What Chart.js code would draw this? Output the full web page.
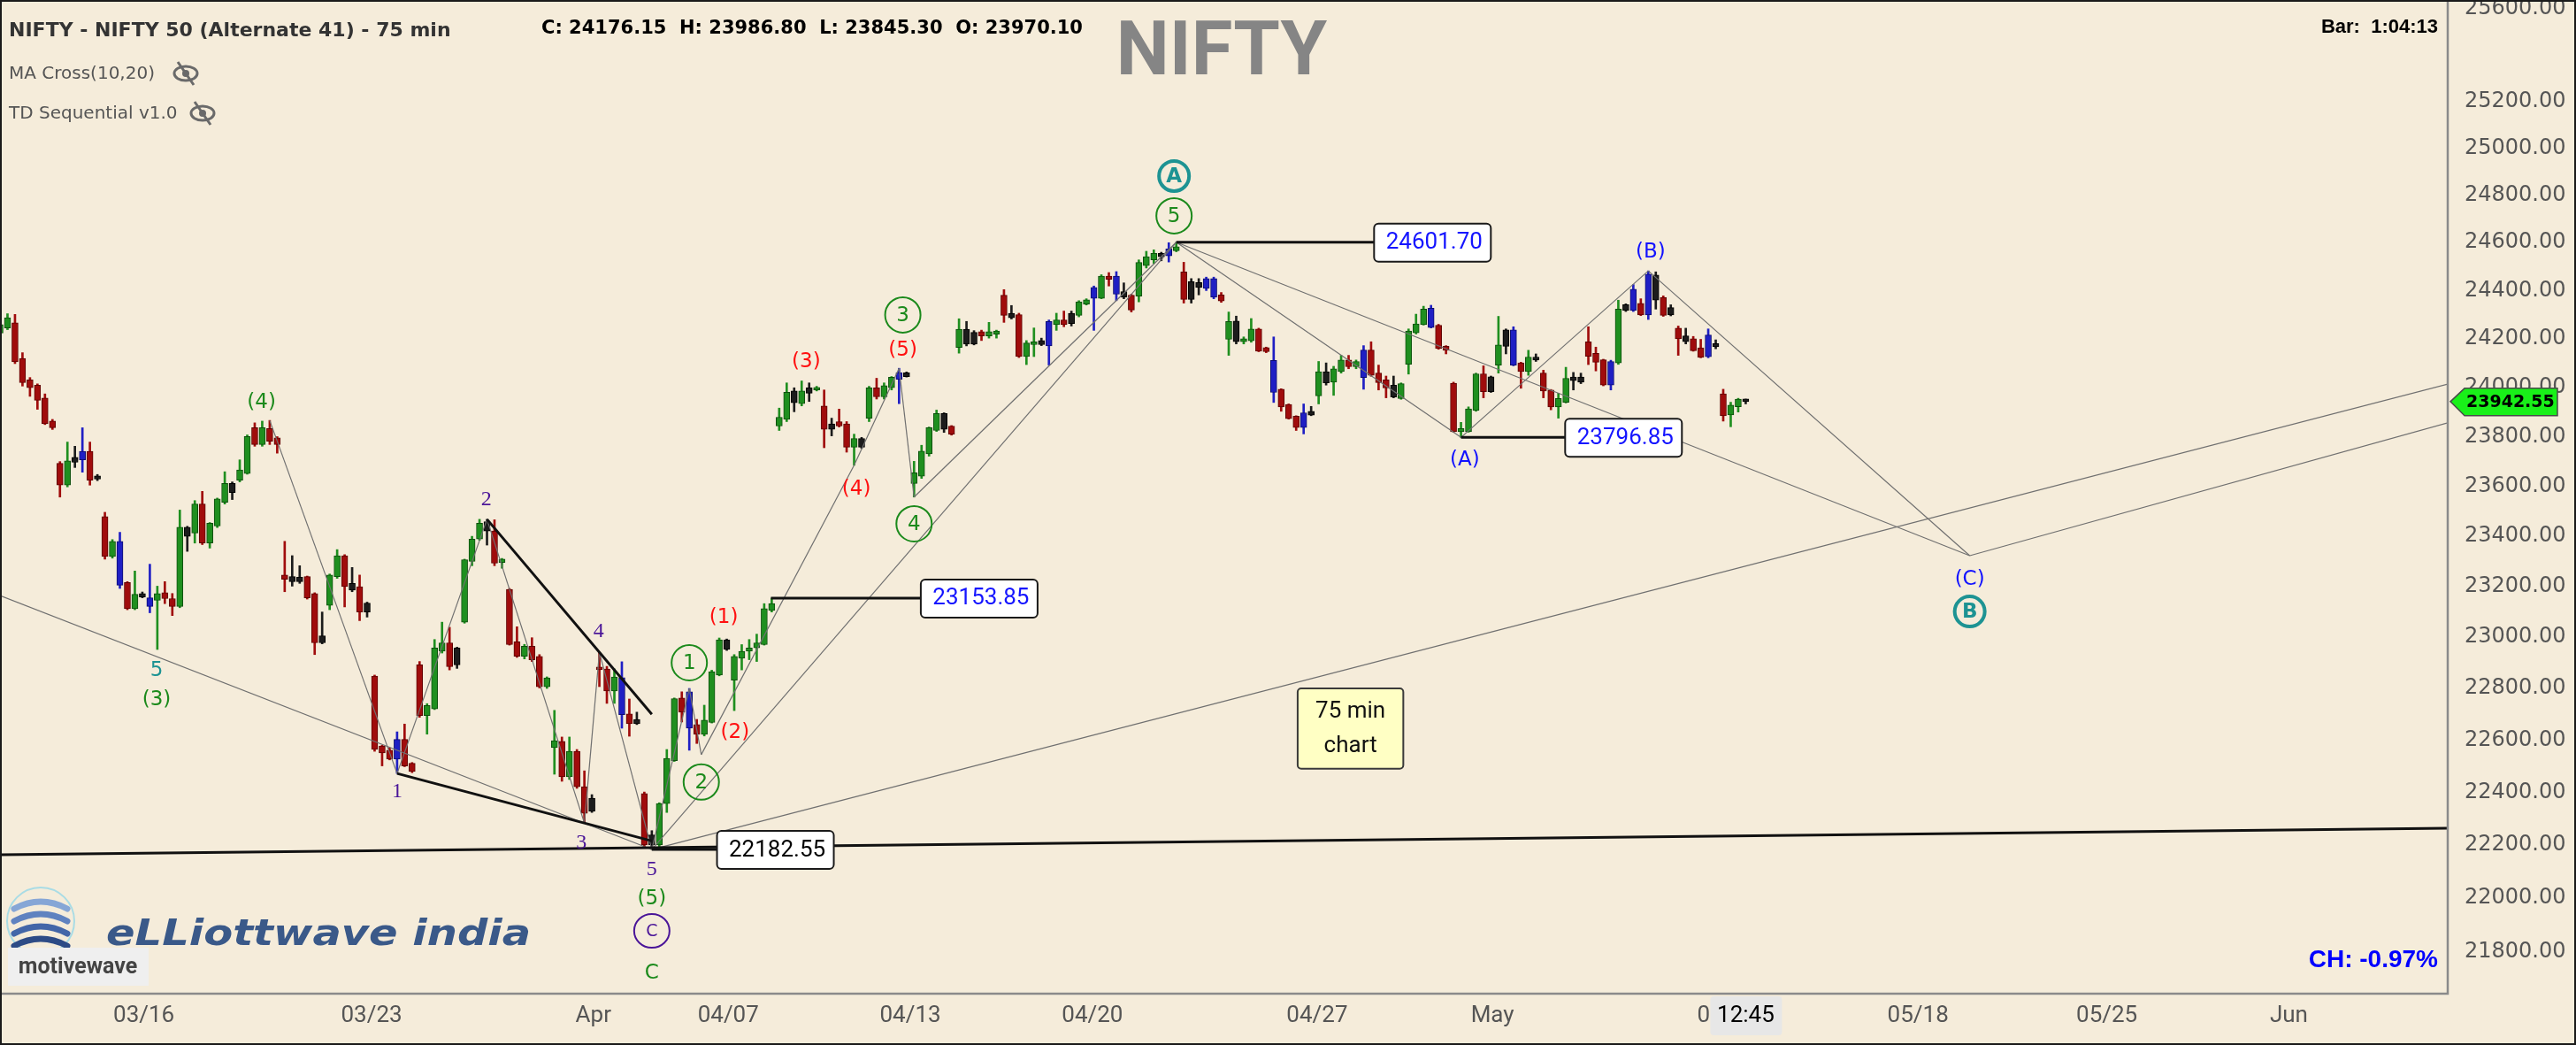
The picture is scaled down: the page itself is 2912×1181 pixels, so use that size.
<!DOCTYPE html>
<html>
<head>
<meta charset="utf-8">
<script src="https://cdn.jsdelivr.net/npm/chart.js@4.4.1/dist/chart.umd.min.js"></script>
<style>
  html, body { margin: 0; padding: 0; background: #f5ecda; }
  #wrap { width: 2912px; height: 1181px; position: relative; }
</style>
</head>
<body>
<div id="wrap"><canvas id="nifty"></canvas></div>
<script>
// 75 min bars (index 0 = left edge)
var opens = [24224,24245,24266,24119,24031,24010,23957,23863,23692,23604,
  23716,23706,23740,23641,23478,23319,23379,23215,23112,23172,
  23155,23145,23175,23152,23121,23435,23412,23528,23372,23440,
  23535,23611,23624,23651,23836,23768,23833,23795,23245,23239,
  23236,23239,23172,22978,23125,23239,23322,23212,23199,23134,
  22848,22577,22561,22527,22603,22511,22892,22695,22721,22945,
  22978,22892,23059,23299,23388,23457,23420,23295,23188,22982,
  22925,22965,22925,22806,22571,22595,22459,22557,22421,22377,
  22883,22876,22790,22842,22701,22680,22395,22238,22200,22357,
  22521,22763,22787,22660,22622,22668,22852,22990,22832,22918,
  22945,22958,22971,23105,23843,23870,23986,23934,23999,23990,
  23925,23852,23861,23852,23757,23792,23875,23999,23962,23999,
  24034,24060,23611,23640,23730,23825,23894,23843,24165,24240,
  24227,24230,24212,24219,24381,24306,24300,24127,24176,24193,
  24171,24259,24278,24306,24297,24344,24368,24368,24460,24460,
  24396,24381,24377,24504,24528,24555,24545,24566,24478,24437,
  24433,24409,24450,24382,24198,24274,24188,24192,24241,24164,
  24111,23993,23931,23883,23837,23903,23966,24065,24022,24065,
  24113,24085,24154,24154,24059,24031,24010,23955,24095,24225,
  24259,24327,24256,24169,24018,23820,23820,23906,24056,24044,
  24092,24237,24237,24101,24065,24125,24059,23990,23921,23940,
  24043,24043,24188,24140,24114,24010,24101,24341,24317,24347,
  24299,24465,24372,24329,24244,24212,24200,24163,24126,24180,
  23974,23888,23922,23950];

var highs = [24273,24304,24301,24143,24041,24015,23974,23870,23699,23778,
  23761,23836,23778,23647,23495,23386,23415,23219,23261,23178,
  23288,23201,23219,23172,23504,23439,23542,23579,23454,23552,
  23658,23617,23706,23807,23856,23863,23866,23800,23379,23322,
  23282,23241,23175,23099,23249,23346,23326,23275,23245,23138,
  22852,22580,22570,22632,22662,22514,22905,22741,22991,23059,
  23039,22961,23308,23399,23467,23467,23465,23311,23192,23041,
  22972,22998,22932,22845,22715,22612,22612,22564,22482,22391,
  22941,22886,22876,22904,22759,22708,22401,22254,22360,22564,
  22763,22787,22800,22680,22735,22871,22997,22993,22932,22971,
  22991,23012,23132,23153.85,23916,24019,23999,24027,24019,24005,
  23990,23875,23912,23861,23810,23797,24005,24038,24019,24045,
  24079,24064,23700,23765,23839,23908,23897,23845,24283,24272,
  24234,24236,24268,24236,24404,24338,24306,24193,24245,24203,
  24278,24306,24315,24315,24358,24366,24419,24466,24475,24479,
  24432,24385,24528,24564,24570,24560,24600,24601.70,24518,24450,
  24450,24456,24456,24392,24311,24294,24208,24284,24244,24166,
  24208,23995,23933,23885,23933,23923,24107,24101,24087,24132,
  24132,24113,24172,24188,24092,24047,24047,24019,24241,24302,
  24335,24339,24260,24172,24022,23858,23921,24059,24089,24047,
  24293,24241,24250,24104,24153,24138,24071,23992,23977,24083,
  24062,24059,24250,24166,24116,24112,24360,24345,24425,24366,
  24482,24478,24378,24341,24253,24244,24210,24198,24241,24196,
  23993,23940,23956,23953];

var lows = [24210,24238,24098,24006,23964,23911,23849,23829,23556,23597,
  23675,23656,23604,23622,23308,23312,23192,23108,23108,23155,
  23096,22952,23132,23085,23116,23339,23372,23366,23352,23434,
  23528,23546,23617,23648,23761,23761,23768,23733,23179,23201,
  23212,23150,22932,22974,23108,23232,23119,23179,23065,23079,
  22557,22501,22524,22472,22498,22475,22688,22623,22718,22938,
  22872,22878,23055,23282,23383,23364,23282,23272,22969,22921,
  22915,22905,22802,22800,22469,22442,22449,22415,22283,22323,
  22807,22742,22742,22646,22615,22660,22190,22182.55,22190,22323,
  22518,22670,22561,22587,22616,22666,22849,22948,22714,22872,
  22912,22905,22969,23099,23825,23861,23901,23925,23943,23986,
  23755,23803,23839,23737,23684,23752,23861,23953,23953,23990,
  23934,24043,23556,23631,23721,23821,23817,23806,24141,24171,
  24175,24193,24203,24203,24268,24282,24123,24094,24127,24172,
  24092,24235,24250,24253,24291,24340,24235,24366,24419,24358,
  24366,24311,24353,24494,24513,24524,24519,24562,24348,24348,
  24382,24400,24366,24351,24132,24179,24179,24186,24147,24143,
  23939,23903,23871,23825,23811,23885,23933,24010,23968,24059,
  24077,24077,23993,24046,23990,23958,23958,23952,24055,24220,
  24257,24245,24157,24138,23818,23796.85,23818,23903,23958,23980,
  24059,24138,24089,23997,24050,24107,23958,23909,23875,23937,
  23990,24016,24094,24068,24007,23990,24095,24313,24313,24296,
  24280,24323,24293,24295,24132,24179,24149,24122,24122,24159,
  23863,23840,23900,23933];

var closes = [24259,24287,24105,24020,23999,23948,23852,23836,23604,23702,
  23696,23740,23624,23628,23319,23379,23205,23112,23169,23158,
  23121,23172,23152,23121,23435,23399,23528,23372,23451,23549,
  23611,23574,23665,23800,23768,23836,23781,23768,23228,23219,
  23219,23155,22978,23005,23245,23322,23199,23185,23099,23099,
  22564,22551,22527,22603,22501,22479,22695,22734,22958,22978,
  22885,22958,23306,23388,23451,23420,23292,23308,22971,22925,
  22965,22912,22806,22841,22598,22459,22557,22421,22320,22327,
  22873,22790,22845,22698,22663,22663,22200,22200,22357,22530,
  22760,22708,22646,22622,22677,22865,22990,22952,22925,22945,
  22958,22978,23112,23132,23879,23981,23938,23986,23977,23999,
  23830,23830,23843,23757,23792,23757,23999,23962,24008,24042,
  24060,24045,23654,23741,23836,23894,23830,23810,24240,24178,
  24178,24212,24230,24232,24297,24287,24127,24183,24188,24176,
  24272,24278,24259,24263,24353,24362,24413,24460,24447,24385,
  24372,24319,24517,24541,24555,24541,24574,24583,24363,24363,
  24413,24450,24372,24357,24272,24188,24200,24241,24149,24147,
  23980,23921,23873,23837,23897,23887,24065,24019,24077,24113,
  24085,24107,24041,24050,24020,23998,23961,24016,24232,24262,
  24323,24247,24160,24153,23820,23833,23913,24056,23983,23983,
  24175,24169,24092,24065,24125,24113,23986,23921,23955,24038,
  24028,24022,24128,24104,24010,24107,24323,24317,24406,24299,
  24468,24360,24297,24299,24200,24188,24151,24124,24216,24167,
  23885,23928,23953,23942.55];

// bar colouring as shown (g up, r down, b / k indicator-painted bars)
var kinds = ('ggrrrrrrrg' + 'kbrkrgbrgk' + 'bgrrgkgrgg' + 'gkggrgrrrk' + 'krrkggrkrk' +
  'rrrbrrrggg' + 'rkgggkrgrr' + 'grrggrgrrk' + 'rrgbrkrkgg' + 'grbrgggkgg' +
  'ggggggkgkg' + 'rkrrgkgrgg' + 'bkggggkrgk' + 'krggrkrggk' + 'bgrkggbgrb' +
  'krgggkbgrk' + 'kbbrgkggrr' + 'brrrbkgkgg' + 'rgbrrrkggg' + 'gbrrrgggrk' +
  'gkbrgkrrgg' + 'kkrrrbgkbr' + 'bkrkrkrrbk' + 'rggk').split('');

var yTicks = [21800, 22000, 22200, 22400, 22600, 22800, 23000, 23200, 23400, 23600,
  23800, 24000, 24200, 24400, 24600, 24800, 25000, 25200, 25600];
var xTickLabels = ['03/16', '03/23', 'Apr', '04/07', '04/13', '04/20', '04/27', 'May', '05/11', '05/18', '05/25', 'Jun'];
var xTickIdx = [19.2, 49.6, 79.2, 97.2, 121.5, 145.8, 175.8, 199.2, 230.6, 256, 281.2, 305.5];

// wave labels: text, bar index, price level
var waveLabels = [
  ['(4)', 34.9, 23938, 'green'], ['5', 20.9, 22869, 'teal'], ['(3)', 20.9, 22756, 'green'],
  ['(1)', 96.6, 23077, 'red'], ['(2)', 98.1, 22629, 'red'], ['(3)', 107.6, 24105, 'red'],
  ['(4)', 114.3, 23587, 'red'], ['(5)', 120.5, 24152, 'red'],
  ['(5)', 87, 21996, 'green'], ['C', 87, 21719, 'green'],
  ['(A)', 195.5, 23705, 'blue'], ['(B)', 220.3, 24560, 'blue'], ['(C)', 262.9, 23227, 'blue']
];
var minorLabels = [['1', 53, 22402], ['2', 64.9, 23544], ['3', 77.6, 22206], ['4', 79.9, 23021], ['5', 87, 22106]];
var circleLabels = [
  ['1', 92, 22900, 'green'], ['2', 93.6, 22439, 'green'], ['3', 120.5, 24299, 'green'],
  ['4', 122, 23449, 'green'], ['5', 156.7, 24713, 'green'], ['A', 156.7, 24881, 'teal'],
  ['B', 262.9, 23101, 'teal'], ['C', 87, 21877, 'purple']
];
var priceBoxes = [[22182.55, 95.7, 'black'], [23153.85, 122.9, 'blue'], [24601.70, 183.4, 'blue'], [23796.85, 208.9, 'blue']];

// wave lines between swing points (index, price, index, price)
var thinLines = [
  [0, 23164, 87, 22182.55], [36, 23866, 53, 22472], [53, 22472, 65, 23467],
  [65, 23467, 78, 22283], [78, 22283, 80, 22941], [80, 22941, 87, 22182.55],
  [87, 22182.55, 92, 22800], [92, 22800, 93.6, 22544], [93.6, 22544, 114, 23684],
  [114, 23684, 120, 24079], [120, 24079, 122, 23556], [122, 23556, 157, 24601.7],
  [87, 22182.55, 157, 24601.7], [87, 22182.55, 326.7, 24014],
  [157, 24601.7, 195, 23796.85], [157, 24601.7, 262.9, 23322],
  [195, 23796.85, 220, 24482], [220, 24482, 262.9, 23322], [262.9, 23322, 326.7, 23856]
];
var thickLines = [
  [53, 22472, 87, 22215], [65, 23467, 87, 22700], [0, 22163, 326.7, 22263],
  [87, 22182.55, 95.7, 22182.55], [102.9, 23153.85, 122.9, 23153.85],
  [157, 24601.7, 183.4, 24601.7], [195, 23796.85, 208.9, 23796.85]
];

var fills = { g: '#1f8f1f', r: '#a00c0c', b: '#1f1fc4', k: '#1c1c1c' };
var edges = { g: '#0d4f0d', r: '#5e0000', b: '#0d0d70', k: '#000000' };
var labelColors = { green: '#1c8a1c', red: '#ff1010', blue: '#1212ff', teal: '#1d9393', purple: '#4a1598' };

var idx = opens.map(function (v, i) { return i; });

function rr(ctx, x, y, w, h, r) {
  ctx.beginPath();
  ctx.moveTo(x + r, y);
  ctx.arcTo(x + w, y, x + w, y + h, r);
  ctx.arcTo(x + w, y + h, x, y + h, r);
  ctx.arcTo(x, y + h, x, y, r);
  ctx.arcTo(x, y, x + w, y, r);
  ctx.closePath();
}

function text(ctx, s, x, y, font, color, align) {
  ctx.font = font;
  ctx.fillStyle = color;
  ctx.textAlign = align || 'center';
  ctx.textBaseline = 'middle';
  ctx.fillText(s, x, y);
}

function eye(ctx, cx, cy) {
  ctx.save();
  ctx.strokeStyle = '#6a6a6a';
  ctx.fillStyle = '#6a6a6a';
  ctx.lineWidth = 3;
  ctx.beginPath();
  ctx.ellipse(cx, cy, 13, 8, 0, 0, Math.PI * 2);
  ctx.stroke();
  ctx.beginPath();
  ctx.arc(cx, cy, 4, 0, Math.PI * 2);
  ctx.fill();
  ctx.beginPath();
  ctx.moveTo(cx - 9, cy - 13);
  ctx.lineTo(cx + 9, cy + 13);
  ctx.stroke();
  ctx.restore();
}

var background = {
  id: 'background',
  beforeDraw: function (chart) {
    var ctx = chart.ctx;
    ctx.save();
    ctx.fillStyle = '#f5ecda';
    ctx.fillRect(0, 0, chart.width, chart.height);
    ctx.restore();
  }
};

var overlay = {
  id: 'overlay',
  afterDatasetsDraw: function (chart) {
    var ctx = chart.ctx, X = chart.scales.x, Y = chart.scales.y, a = chart.chartArea;
    var px = function (i) { return X.getPixelForValue(i); };
    var py = function (v) { return Y.getPixelForValue(v); };

    ctx.save();
    ctx.beginPath();
    ctx.rect(a.left, a.top, a.right - a.left, a.bottom - a.top);
    ctx.clip();

    ctx.strokeStyle = '#707070';
    ctx.lineWidth = 1.2;
    thinLines.forEach(function (l) {
      ctx.beginPath();
      ctx.moveTo(px(l[0]), py(l[1]));
      ctx.lineTo(px(l[2]), py(l[3]));
      ctx.stroke();
    });
    ctx.strokeStyle = '#111';
    ctx.lineWidth = 3;
    thickLines.forEach(function (l) {
      ctx.beginPath();
      ctx.moveTo(px(l[0]), py(l[1]));
      ctx.lineTo(px(l[2]), py(l[3]));
      ctx.stroke();
    });

    waveLabels.forEach(function (l) {
      text(ctx, l[0], px(l[1]), py(l[2]), '23px "DejaVu Sans"', labelColors[l[3]]);
    });
    minorLabels.forEach(function (l) {
      text(ctx, l[0], px(l[1]), py(l[2]), '24px "Liberation Serif"', labelColors.purple);
    });
    circleLabels.forEach(function (l) {
      var x = px(l[1]), y = py(l[2]), c = labelColors[l[3]];
      var teal = l[3] === 'teal';
      ctx.strokeStyle = c;
      ctx.lineWidth = teal ? 4 : 2;
      ctx.beginPath();
      if (teal) ctx.arc(x, y, 17, 0, Math.PI * 2);
      else ctx.ellipse(x, y, 20, l[3] === 'purple' ? 19 : 20, 0, 0, Math.PI * 2);
      ctx.stroke();
      text(ctx, l[0], x, y + 1, teal ? 'bold 23px "DejaVu Sans"' : (l[3] === 'purple' ? '19px "DejaVu Sans"' : '23px "DejaVu Sans"'), c);
    });

    priceBoxes.forEach(function (b) {
      var x = px(b[1]), y = py(b[0]);
      rr(ctx, x, y - 21, 132, 43, 5);
      ctx.fillStyle = '#ffffff';
      ctx.fill();
      ctx.strokeStyle = '#1a1a1a';
      ctx.lineWidth = 2;
      ctx.stroke();
      text(ctx, b[0].toFixed(2), x + 68, y + 1, '26px Roboto', b[2] === 'blue' ? '#1515ff' : '#000');
    });

    // note box
    var nx = px(173.2), ny = py(22800), nw = px(187.3) - nx, nh = py(22490) - ny;
    rr(ctx, nx, ny, nw, nh, 4);
    ctx.fillStyle = '#ffffc4';
    ctx.fill();
    ctx.strokeStyle = '#3a3a3a';
    ctx.lineWidth = 2;
    ctx.stroke();
    text(ctx, '75 min', nx + nw / 2, ny + 26, '26px Roboto', '#111');
    text(ctx, 'chart', nx + nw / 2, ny + 65, '26px Roboto', '#111');
    ctx.restore();

    // frame
    ctx.save();
    ctx.strokeStyle = '#8a8a8a';
    ctx.lineWidth = 2.5;
    ctx.beginPath();
    ctx.moveTo(a.right, 0);
    ctx.lineTo(a.right, a.bottom);
    ctx.lineTo(0, a.bottom);
    ctx.stroke();

    // price axis
    yTicks.forEach(function (v) {
      text(ctx, v.toFixed(2), a.right + 19, py(v), '24px "DejaVu Sans"', '#555', 'left');
    });
    // time axis
    xTickLabels.forEach(function (s, k) {
      text(ctx, s, px(xTickIdx[k]), a.bottom + 25, '26px Roboto', '#555');
    });

    // last price tag
    var last = closes.length - 1, ty = py(closes[last]);
    ctx.beginPath();
    ctx.moveTo(a.right + 3, ty);
    ctx.lineTo(a.right + 19, ty - 15);
    ctx.lineTo(a.right + 124, ty - 15);
    ctx.lineTo(a.right + 124, ty + 16);
    ctx.lineTo(a.right + 19, ty + 16);
    ctx.closePath();
    ctx.fillStyle = '#19f019';
    ctx.fill();
    ctx.strokeStyle = '#4a4a4a';
    ctx.lineWidth = 1.5;
    ctx.stroke();
    text(ctx, closes[last].toFixed(2), a.right + 21, ty + 1, 'bold 19px "DejaVu Sans"', '#000', 'left');

    // bar time box
    var bx = px(last);
    rr(ctx, bx - 40, a.bottom + 3, 81, 44, 4);
    ctx.fillStyle = '#e7e7e7';
    ctx.fill();
    text(ctx, '12:45', bx, a.bottom + 25, '26px Roboto', '#000');

    // header
    text(ctx, 'NIFTY - NIFTY 50 (Alternate 41) - 75 min', 10, 35, 'bold 22px "DejaVu Sans"', '#333', 'left');
    text(ctx, 'C: 24176.15  H: 23986.80  L: 23845.30  O: 23970.10', 612, 33, 'bold 21px "DejaVu Sans"', '#000', 'left');
    text(ctx, 'NIFTY', 1381, 63, 'bold 85px Roboto', '#858585');
    text(ctx, 'MA Cross(10,20)', 10, 84, '20px "DejaVu Sans"', '#555', 'left');
    eye(ctx, 210, 83);
    text(ctx, 'TD Sequential v1.0', 10, 129, '20px "DejaVu Sans"', '#555', 'left');
    eye(ctx, 229, 128);
    text(ctx, 'Bar:  1:04:13', 2756, 31, 'bold 22px "Liberation Sans"', '#000', 'right');
    text(ctx, 'CH: -0.97%', 2756, 1085, 'bold 28px "Liberation Sans"', '#0000ff', 'right');

    // logo
    ctx.strokeStyle = '#a9dce5';
    ctx.lineWidth = 2;
    ctx.beginPath();
    ctx.arc(46, 1041, 38, 0, Math.PI * 2);
    ctx.stroke();
    ctx.lineCap = 'round';
    ctx.lineWidth = 7;
    [[1020, '#86a6d6'], [1034, '#5f82c0'], [1048, '#4366a8'], [1062, '#2d4b86']].forEach(function (s) {
      ctx.strokeStyle = s[1];
      ctx.beginPath();
      ctx.moveTo(16, s[0] + 7);
      ctx.quadraticCurveTo(46, s[0] - 9, 76, s[0] + 7);
      ctx.stroke();
    });
    ctx.save();
    ctx.translate(120, 1068);
    ctx.scale(1.2, 1);
    ctx.font = 'italic bold 40px "DejaVu Sans"';
    ctx.fillStyle = '#3a5989';
    ctx.textAlign = 'left';
    ctx.textBaseline = 'alphabetic';
    ctx.fillText('eLLiottwave india', 0, 0);
    ctx.restore();
    ctx.fillStyle = '#efefef';
    ctx.fillRect(9, 1071, 159, 43);
    text(ctx, 'motivewave', 88, 1094, 'bold 25px Roboto', '#444');

    // outer border
    ctx.strokeStyle = '#1a1a1a';
    ctx.lineWidth = 2;
    ctx.strokeRect(1, 1, chart.width - 2, chart.height - 2);
    ctx.restore();
  }
};

var ctx = document.getElementById('nifty').getContext('2d');
var chart = new Chart(ctx, {
  type: 'bar',
  data: {
    datasets: [{
      label: 'range',
      data: idx.map(function (i) { return { x: i, y: [lows[i], highs[i]] }; }),
      backgroundColor: kinds.map(function (k) { return fills[k]; }),
      borderWidth: 0,
      barThickness: 2,
      grouped: false,
      order: 2
    }, {
      label: 'body',
      data: idx.map(function (i) { return { x: i, y: [opens[i], closes[i]] }; }),
      backgroundColor: kinds.map(function (k) { return fills[k]; }),
      borderColor: kinds.map(function (k) { return edges[k]; }),
      borderWidth: 1,
      borderSkipped: false,
      barThickness: 7,
      minBarLength: 3,
      grouped: false,
      order: 1
    }]
  },
  options: {
    responsive: true,
    maintainAspectRatio: false,
    animation: false,
    events: [],
    layout: { padding: { left: 0, top: 0, right: 145, bottom: 58 } },
    plugins: { legend: { display: false }, tooltip: { enabled: false } },
    scales: {
      x: { type: 'linear', min: 0, max: 326.7, offset: false, display: false },
      y: { type: 'logarithmic', min: 21644, max: 25639, display: false }
    }
  },
  plugins: [background, overlay]
});
</script>
</body>
</html>
